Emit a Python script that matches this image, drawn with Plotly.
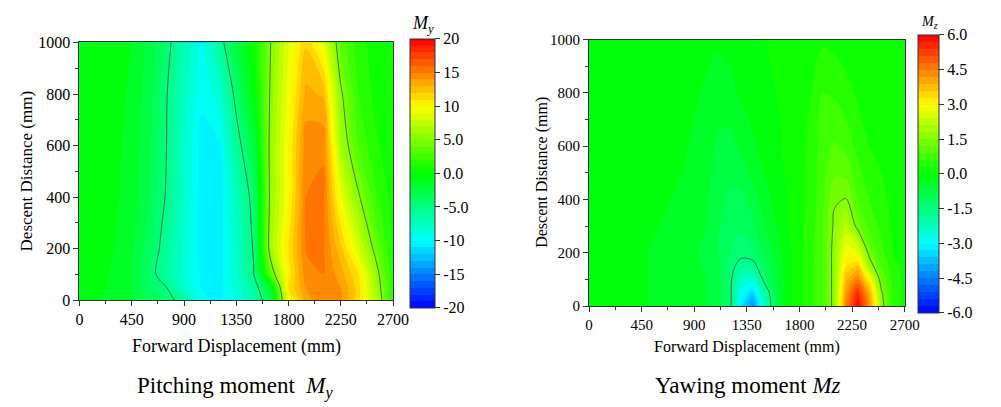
import plotly.graph_objects as go

# ---------------- Pitching moment My ----------------
x_my = [0, 150, 300, 450, 600, 750, 900, 1050, 1200, 1350, 1500, 1650, 1800, 1950, 2100, 2250, 2400, 2550, 2700]
y_my = [0, 50, 100, 200, 300, 400, 600, 800, 1000]

my_y0 = [-1.0, -1.0, -1.2, -2.0, -3.2, -4.2, -6.0, -9.5, -10.3, -9.0, -7.0, -3.0, 9.5, 13.5, 14.8, 14.2, 11.5, 7.0, 1.5]
my_y50 = [-0.9, -0.9, -1.1, -2.0, -3.8, -5.0, -8.0, -10.0, -10.4, -8.5, -6.2, -1.5, 11.0, 14.0, 15.0, 14.0, 11.5, 6.5, 1.2]
my_y100 = [-0.8, -0.8, -1.1, -2.0, -4.2, -6.2, -8.3, -10.2, -10.5, -8.3, -5.1, 3.5, 10.5, 14.6, 15.0, 13.5, 11.0, 6.0, 1.0]
my_y200 = [-0.7, -0.7, -1.0, -1.8, -3.6, -6.0, -8.3, -10.4, -10.6, -8.0, -4.8, 6.5, 11.0, 15.1, 15.2, 12.3, 8.5, 4.3, 0.8]
my_y300 = [-0.6, -0.6, -0.9, -1.6, -3.3, -5.6, -8.2, -10.5, -10.7, -7.8, -4.5, 6.3, 10.5, 15.2, 15.3, 10.8, 6.8, 3.0, 0.6]
my_y400 = [-0.5, -0.5, -0.8, -1.5, -3.0, -5.2, -8.0, -10.4, -10.7, -7.5, -4.2, 6.0, 10.0, 15.0, 15.3, 9.3, 5.3, 2.2, 0.5]
my_y600 = [-0.5, -0.5, -0.7, -1.4, -2.8, -5.0, -8.0, -10.3, -10.2, -6.0, -2.5, 6.0, 10.0, 14.6, 14.8, 6.5, 3.0, 1.2, 0.3]
my_y800 = [-0.4, -0.4, -0.6, -1.2, -2.6, -4.9, -7.5, -9.8, -8.5, -4.3, -0.5, 5.5, 9.5, 13.3, 12.8, 5.3, 2.0, 0.7, 0.2]
my_y1000 = [-0.3, -0.3, -0.5, -1.0, -2.3, -4.3, -7.0, -9.3, -6.0, -2.5, 0.5, 5.1, 9.0, 11.8, 9.0, 3.5, 1.5, 0.5, 0.2]
my_values = [my_y0, my_y50, my_y100, my_y200, my_y300, my_y400, my_y600, my_y800, my_y1000]

my_ticks = [-20, -15, -10, -5, 0, 5, 10, 15, 20]
my_ticktext = ["-20", "-15", "-10", "-5.0", "0.0", "5.0", "10", "15", "20"]
my_lines = [-5, 5]

# ---------------- Yawing moment Mz ----------------
x_mz = [0, 100, 200, 300, 400, 500, 600, 700, 800, 900, 1000, 1100, 1200, 1300,
        1400, 1500, 1600, 1700, 1800, 1900, 2000, 2100, 2200, 2300, 2400, 2500, 2600, 2700]
y_mz = [0, 50, 100, 150, 200, 300, 400, 500, 600, 800, 1000]

mz_y0 = [-0.1, -0.1, -0.1, -0.15, -0.2, -0.3, -0.35, -0.4, -0.45, -0.5, -0.6, -0.8, -1.2, -3.2,
         -4.3, -2.4, -0.8, -0.1, 0.2, 0.5, 0.9, 1.7, 4.5, 6.0, 4.3, 1.8, 0.5, 0.2]
mz_y50 = [-0.1, -0.1, -0.1, -0.15, -0.2, -0.3, -0.35, -0.4, -0.45, -0.5, -0.6, -0.8, -1.25, -2.8,
          -3.5, -2.0, -0.8, -0.1, 0.2, 0.5, 0.9, 1.7, 4.2, 5.5, 3.9, 1.6, 0.5, 0.2]
mz_y100 = [-0.1, -0.1, -0.1, -0.15, -0.2, -0.3, -0.35, -0.4, -0.45, -0.5, -0.6, -0.8, -1.3, -2.3,
           -2.5, -1.3, -0.7, -0.1, 0.2, 0.5, 0.9, 1.7, 3.8, 4.5, 3.0, 1.2, 0.5, 0.2]
mz_y150 = [-0.1, -0.1, -0.1, -0.15, -0.2, -0.3, -0.35, -0.4, -0.45, -0.5, -0.65, -0.8, -1.3, -1.7,
           -1.7, -1.1, -0.6, -0.1, 0.2, 0.5, 0.9, 1.7, 3.3, 3.6, 1.8, 0.9, 0.4, 0.2]
mz_y200 = [-0.1, -0.1, -0.1, -0.15, -0.2, -0.3, -0.35, -0.4, -0.45, -0.55, -0.7, -0.9, -1.2, -1.35,
           -1.25, -0.9, -0.5, -0.1, 0.2, 0.5, 0.9, 1.7, 2.9, 2.7, 1.3, 0.7, 0.3, 0.2]
mz_y300 = [-0.1, -0.1, -0.1, -0.15, -0.2, -0.25, -0.3, -0.35, -0.4, -0.5, -0.6, -0.85, -1.1, -1.15,
           -0.95, -0.6, -0.3, 0.0, 0.2, 0.45, 0.9, 1.6, 2.2, 1.3, 0.8, 0.5, 0.25, 0.15]
mz_y400 = [-0.1, -0.1, -0.1, -0.1, -0.15, -0.2, -0.25, -0.3, -0.35, -0.45, -0.55, -0.8, -0.95, -1.0,
           -0.75, -0.45, -0.2, 0.0, 0.2, 0.4, 0.85, 1.45, 1.52, 0.9, 0.6, 0.4, 0.2, 0.1]
mz_y500 = [-0.1, -0.1, -0.1, -0.1, -0.1, -0.15, -0.2, -0.25, -0.3, -0.4, -0.5, -0.7, -0.85, -0.75,
           -0.5, -0.3, -0.1, 0.05, 0.2, 0.4, 0.8, 1.15, 1.1, 0.7, 0.4, 0.3, 0.2, 0.1]
mz_y600 = [-0.1, -0.1, -0.1, -0.1, -0.1, -0.15, -0.2, -0.2, -0.25, -0.35, -0.45, -0.65, -0.7, -0.55,
           -0.35, -0.2, -0.05, 0.05, 0.2, 0.4, 0.75, 0.95, 0.8, 0.5, 0.3, 0.2, 0.15, 0.1]
mz_y800 = [-0.05, -0.05, -0.1, -0.1, -0.1, -0.1, -0.15, -0.15, -0.2, -0.25, -0.35, -0.45, -0.4, -0.25,
           -0.15, -0.05, 0.0, 0.05, 0.15, 0.3, 0.6, 0.55, 0.4, 0.25, 0.15, 0.1, 0.1, 0.05]
mz_y1000 = [-0.05, -0.05, -0.05, -0.05, -0.05, -0.05, -0.1, -0.1, -0.1, -0.15, -0.2, -0.25, -0.2, -0.15,
            -0.1, 0.0, 0.0, 0.05, 0.1, 0.15, 0.25, 0.2, 0.15, 0.1, 0.1, 0.05, 0.05, 0.05]
mz_values = [mz_y0, mz_y50, mz_y100, mz_y150, mz_y200, mz_y300, mz_y400, mz_y500, mz_y600, mz_y800, mz_y1000]

mz_ticks = [-6, -4.5, -3, -1.5, 0, 1.5, 3, 4.5, 6]
mz_ticktext = ["-6.0", "-4.5", "-3.0", "-1.5", "0.0", "1.5", "3.0", "4.5", "6.0"]
mz_lines = [-1.5, 1.5]

x_ticks = [0, 450, 900, 1350, 1800, 2250, 2700]
y_ticks = [0, 200, 400, 600, 800, 1000]

# ---------------- styling ----------------
W, H = 1001, 407
FONT = "Liberation Serif"
jet = [[0.0, "rgb(0,0,255)"], [0.25, "rgb(0,255,255)"], [0.5, "rgb(0,255,0)"],
       [0.75, "rgb(255,255,0)"], [1.0, "rgb(255,0,0)"]]


def px_x(p):
    return p / W


def px_y(p):
    return 1 - p / H


def filled(x, y, z, lo, hi, step, cb, xa, ya):
    return go.Contour(
        x=x, y=y, z=z, xaxis=xa, yaxis=ya,
        colorscale=jet, zmin=lo, zmax=hi, autocontour=False,
        contours=dict(start=lo, end=hi, size=step, coloring="fill", showlines=False),
        line=dict(width=0, smoothing=1.0),
        colorbar=cb, hoverinfo="skip",
    )


def outlines(x, y, z, levels, xa, ya):
    return go.Contour(
        x=x, y=y, z=z, xaxis=xa, yaxis=ya, autocontour=False, showscale=False,
        contours=dict(start=levels[0], end=levels[-1], size=levels[-1] - levels[0],
                      coloring="none", showlines=True),
        line=dict(color="rgba(70,70,70,0.85)", width=0.9, smoothing=1.0),
        hoverinfo="skip",
    )


def colorbar(x0, top, bottom, thick, ticks, text, size):
    return dict(
        x=px_x(x0), xanchor="left", y=px_y((top + bottom) / 2), yanchor="middle",
        len=bottom - top, lenmode="pixels", thickness=thick, thicknessmode="pixels",
        outlinewidth=1, outlinecolor="#333", ticks="outside", ticklen=5, tickcolor="#333",
        tickvals=ticks, ticktext=text, xpad=0, ypad=0,
        tickfont=dict(family=FONT, size=size, color="black"),
    )


fig = go.Figure()
fig.add_trace(filled(x_my, y_my, my_values, -20, 20, 1,
                     colorbar(414, 38, 307, 25, my_ticks, my_ticktext, 16), "x", "y"))
fig.add_trace(outlines(x_my, y_my, my_values, my_lines, "x", "y"))
fig.add_trace(filled(x_mz, y_mz, mz_values, -6, 6, 0.3,
                     colorbar(933, 34, 312, 21, mz_ticks, mz_ticktext, 16), "x2", "y2"))
fig.add_trace(outlines(x_mz, y_mz, mz_values, mz_lines, "x2", "y2"))


def axis(dom, rng, ticks, minor, size, anchor):
    return dict(
        domain=dom, range=rng, tickvals=ticks, ticks="outside", ticklen=5, tickcolor="#333",
        showline=True, linecolor="#333", linewidth=1, mirror=True, showgrid=False,
        zeroline=False, anchor=anchor,
        minor=dict(dtick=minor, ticks="outside", ticklen=3, tickcolor="#333", showgrid=False),
        tickfont=dict(family=FONT, size=size, color="black"),
    )


fig.update_layout(
    width=W, height=H, margin=dict(l=0, r=0, t=0, b=0),
    paper_bgcolor="white", plot_bgcolor="white", showlegend=False,
    xaxis=axis([px_x(77), px_x(397)], [0, 2700], x_ticks, 225, 16, "y"),
    yaxis=axis([px_y(305), px_y(36)], [0, 1000], y_ticks, 100, 16, "x"),
    xaxis2=axis([px_x(597), px_x(919)], [0, 2700], x_ticks, 225, 15, "y2"),
    yaxis2=axis([px_y(311), px_y(33)], [0, 1000], y_ticks, 100, 15, "x2"),
)


def note(text, x, y, size, angle=0):
    fig.add_annotation(text=text, x=px_x(x), y=px_y(y), xref="paper", yref="paper",
                       xanchor="center", yanchor="middle", showarrow=False, textangle=angle,
                       font=dict(family=FONT, size=size, color="black"))


note("Forward Displacement (mm)", 237, 353, 18)
note("Descent Distance (mm)", 23, 170, 17, -90)
note("Forward Displacement (mm)", 758, 354, 16)
note("Descent Distance (mm)", 549, 172, 16, -90)
note("<i>M</i><sub><i>y</i></sub>", 428, 17, 18)
note("<i>M</i><sub><i>z</i></sub>", 944, 15, 14)
note("Pitching moment  <i>M</i><sub><i>y</i></sub>", 236, 396, 23)
note("Yawing moment <i>Mz</i>", 759, 394, 23)

fig.write_html("out.html")
